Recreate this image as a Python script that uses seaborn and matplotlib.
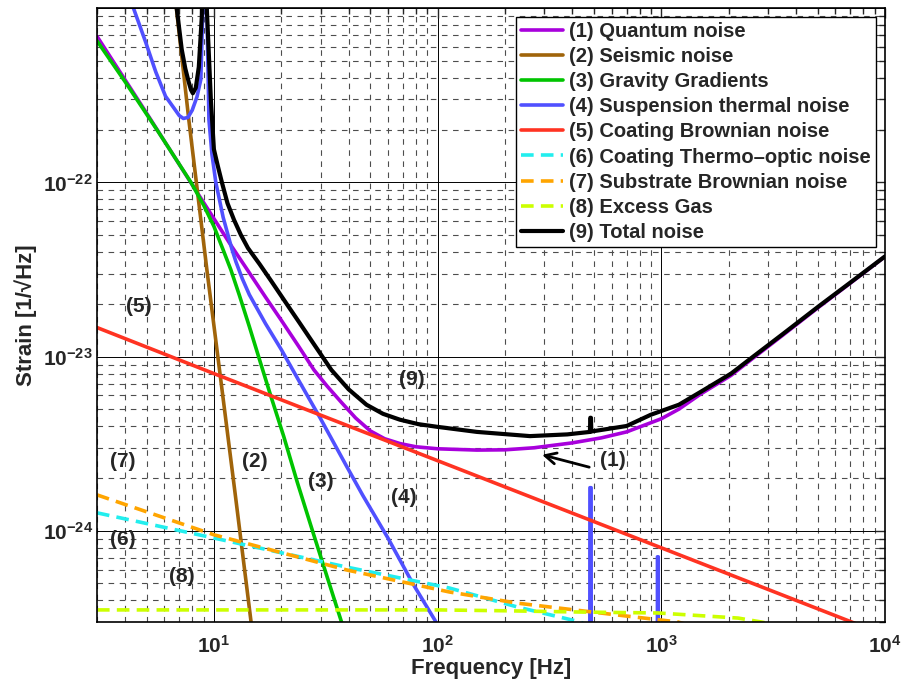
import numpy as np
import pandas as pd
import matplotlib
matplotlib.use("Agg")
import matplotlib.pyplot as plt
import seaborn as sns
from matplotlib.ticker import FixedLocator, LogLocator, NullFormatter, FuncFormatter

# values: frequency [Hz] and strain [1/sqrt(Hz)]
f_quantum = [3, 5, 8, 10, 12, 14, 17, 20, 24, 28, 32, 37, 43, 50, 58, 68, 80, 100, 150, 200, 270, 400, 540,
             700, 1000, 1200, 1500, 2050, 2520, 3500, 5050, 7000, 10000]
h_quantum = [6.9e-22, 2.5e-22, 9.7e-23, 6.2e-23, 4.3e-23, 3.2e-23, 2.2e-23, 1.62e-23, 1.14e-23, 8.4e-24,
             6.8e-24, 5.5e-24, 4.45e-24, 3.75e-24, 3.38e-24, 3.17e-24, 3.04e-24, 2.96e-24, 2.91e-24, 2.92e-24,
             3.0e-24, 3.2e-24, 3.42e-24, 3.7e-24, 4.4e-24, 5.0e-24, 6.1e-24, 7.8e-24, 9.6e-24, 1.33e-23,
             1.92e-23, 2.64e-23, 3.75e-23]

f_seismic = [6.6, 7.72, 9.3, 12.55, 14.66, 15.3]
h_seismic = [1.4e-21, 2.3e-22, 3.16e-23, 1.5e-24, 3.0e-25, 2.0e-25]

f_gravity = [3, 4, 5.66, 7.9, 9, 10, 11, 11.9, 13, 14.4, 16, 18, 20.5, 23.6, 27.6, 32, 37.2, 40]
h_gravity = [6.5e-22, 3.8e-22, 1.94e-22, 1.0e-22, 7.4e-23, 5.6e-23, 4.1e-23, 3.16e-23, 2.25e-23, 1.49e-23,
             9.6e-24, 5.9e-24, 3.5e-24, 1.9e-24, 1.0e-24, 5.5e-25, 3.0e-25, 2.2e-25]

f_susp = [4.2, 4.37, 4.95, 5.5, 6.08, 6.7, 7.0, 7.3, 7.65, 8.0, 8.4, 8.74, 9.0, 9.1, 9.25, 9.5, 9.8, 10.2, 11,
          12.05, 12.55, 13.4, 14.4, 17, 20, 24.1, 30, 39.2, 46.3, 60, 77.4, 97.2, 150, 300,
          479, 480, 486, 487, 700, 961, 962, 970, 971, 2000]
h_susp = [1.3e-21, 1.0e-21, 6.4e-22, 4.3e-22, 3.12e-22, 2.62e-22, 2.42e-22, 2.33e-22, 2.36e-22, 2.6e-22,
          3.1e-22, 3.9e-22, 1.5e-21, 1e-20, 1.5e-21, 2.3e-22, 1.45e-22, 1.0e-22, 6.3e-23, 4.12e-23, 3.5e-23,
          2.8e-23, 2.27e-23, 1.55e-23, 1.1e-23, 7.2e-24, 4.4e-24, 2.35e-24, 1.6e-24, 9.1e-25, 5.0e-25,
          3.08e-25, 1.1e-25, 3e-26, 1.3e-26, 1.77e-24, 1.77e-24, 1.3e-26, 1e-26, 5e-27, 7.1e-25, 7.1e-25,
          5e-27, 2e-27]

f_coat_br = [3, 10, 100, 1000, 7100, 10000]
h_coat_br = [1.47e-23, 8.0e-24, 2.53e-24, 8.0e-25, 3.0e-25, 2.5e-25]

f_coat_to = [3, 10, 39.2, 113, 227, 435, 480]
h_coat_to = [1.27e-24, 9.1e-25, 6.2e-25, 4.7e-25, 3.66e-25, 3.0e-25, 2.8e-25]

f_subst = [3, 10, 39.2, 113, 227, 638, 1189, 1300]
h_subst = [1.61e-24, 9.5e-25, 5.97e-25, 4.46e-25, 3.85e-25, 3.29e-25, 3.0e-25, 2.9e-25]

f_gas = [3, 100, 200, 449, 966, 2208, 2800, 3000]
h_gas = [3.52e-25, 3.52e-25, 3.48e-25, 3.42e-25, 3.38e-25, 3.16e-25, 3.0e-25, 2.95e-25]

f_total = [6.5, 6.82, 7.18, 7.45, 7.72, 7.9, 8.05, 8.3, 8.56, 8.83, 9.05, 9.3, 9.69, 10, 10.4, 10.86, 11.5,
           12.3, 13.2, 14.2, 16, 18, 21.9, 24.1, 28, 33.5, 40, 48.1, 57, 67.8, 82, 99.3, 150, 259, 380, 480,
           482, 485, 487, 700, 898, 1200, 1507, 2054, 2523, 3500, 5045, 7000, 10000]
h_total = [1.4e-21, 1.0e-21, 5.8e-22, 4.5e-22, 3.76e-22, 3.4e-22, 3.25e-22, 3.5e-22, 4.6e-22, 9e-22, 1e-20,
           9.8e-22, 3.0e-22, 1.55e-22, 1.25e-22, 1.0e-22, 7.6e-23, 6.1e-23, 5.0e-23, 4.2e-23, 3.4e-23,
           2.73e-23, 1.88e-23, 1.57e-23, 1.18e-23, 8.4e-24, 6.5e-24, 5.3e-24, 4.7e-24, 4.35e-24, 4.1e-24,
           3.96e-24, 3.7e-24, 3.5e-24, 3.58e-24, 3.7e-24, 4.46e-24, 4.46e-24, 3.72e-24, 4.0e-24, 4.64e-24,
           5.3e-24, 6.3e-24, 8.0e-24, 9.8e-24, 1.35e-23, 1.94e-23, 2.66e-23, 3.76e-23]

labels = ["(1) Quantum noise", "(2) Seismic noise", "(3) Gravity Gradients",
          "(4) Suspension thermal noise", "(5) Coating Brownian noise",
          "(6) Coating Thermo\u2013optic noise", "(7) Substrate Brownian noise",
          "(8) Excess Gas", "(9) Total noise"]

# curve tags placed on the plot (text, frequency, strain)
tags = [("(5)", 4.6, 1.94e-23), ("(9)", 77, 7.4e-24), ("(1)", 607, 2.52e-24),
        ("(7)", 3.9, 2.5e-24), ("(2)", 15.3, 2.5e-24), ("(3)", 30.2, 1.91e-24),
        ("(4)", 71, 1.55e-24), ("(6)", 3.9, 8.9e-25), ("(8)", 7.2, 5.45e-25)]

sns.set_style("white")
plt.rcParams['font.family'] = ['Liberation Sans', 'DejaVu Sans']
plt.rcParams['font.weight'] = 'bold'
plt.rcParams['axes.labelweight'] = 'bold'
plt.rcParams['mathtext.fontset'] = 'custom'
plt.rcParams['mathtext.rm'] = 'Liberation Sans:bold'
plt.rcParams['mathtext.bf'] = 'Liberation Sans:bold'
plt.rcParams['mathtext.default'] = 'rm'

fig = plt.figure(figsize=(9.02, 6.86), dpi=100)
ax = fig.add_axes([0.1075, 0.0933, 0.8735, 0.8947])

series = [
    (f_quantum, h_quantum, "#A800DC", "-", 2.6),
    (f_seismic, h_seismic, "#A0640A", "-", 2.6),
    (f_gravity, h_gravity, "#00C400", "-", 2.6),
    (f_susp, h_susp, "#5050FF", "-", 2.6),
    (f_coat_br, h_coat_br, "#FF3322", "-", 2.6),
    (f_coat_to, h_coat_to, "#22EEEE", (0, (3.5, 2)), 2.6),
    (f_subst, h_subst, "#FFA500", (0, (3.5, 2)), 2.6),
    (f_gas, h_gas, "#CCFF00", (0, (3.5, 2)), 2.6),
    (f_total, h_total, "black", "-", 3.0),
]
for (f, h, c, ls, lw), lab in zip(series, labels):
    sns.lineplot(x=f, y=h, ax=ax, color=c, linestyle=ls, lw=lw, label=lab,
                 estimator=None, sort=False)

ax.set_xscale('log')
ax.set_yscale('log')
ax.set_xlim(3, 1e4)
ax.set_ylim(3e-25, 1e-21)

ax.xaxis.set_major_locator(FixedLocator([1e1, 1e2, 1e3, 1e4]))
ax.yaxis.set_major_locator(FixedLocator([1e-24, 1e-23, 1e-22]))
ax.xaxis.set_minor_locator(LogLocator(base=10, subs=np.arange(2, 10), numticks=20))
ax.yaxis.set_minor_locator(LogLocator(base=10, subs=np.arange(2, 10), numticks=20))
ax.xaxis.set_minor_formatter(NullFormatter())
ax.yaxis.set_minor_formatter(NullFormatter())
fmt = FuncFormatter(lambda v, p: r'$10^{%d}$' % int(round(np.log10(v))))
ax.xaxis.set_major_formatter(fmt)
ax.yaxis.set_major_formatter(fmt)

ax.grid(True, which='major', ls='-', color='black', lw=0.7)
ax.grid(True, which='minor', ls=(0, (5, 5)), color='0.3', lw=0.8)
ax.axhline(1e-21, color='black', lw=0.7)
ax.tick_params(which='both', direction='in', top=True, right=True, labelsize=15, width=1)
ax.tick_params(which='major', length=7)
ax.tick_params(axis='x', which='major', pad=9)
ax.tick_params(axis='y', which='major', pad=3)
ax.tick_params(which='minor', length=4)
for s in ax.spines.values():
    s.set_linewidth(1.2)
    s.set_color('black')

ax.set_xlabel("Frequency [Hz]", fontsize=16, labelpad=1)
ax.set_ylabel("Strain [1/\u221aHz]", fontsize=16, labelpad=4)

for t, x, y in tags:
    ax.text(x, y, t, fontsize=15, ha='center', va='center', weight='bold')
ax.annotate('', xy=(285, 2.76e-24), xytext=(490, 2.3e-24),
            arrowprops=dict(arrowstyle='->', color='black', lw=2, mutation_scale=20))

leg = ax.legend(loc='upper right', fontsize=14.5, frameon=True, fancybox=False,
                edgecolor='black', framealpha=1, handlelength=2.1, handletextpad=0.3,
                labelspacing=0.3, borderpad=0.25, borderaxespad=0.45)
leg.get_frame().set_linewidth(1.0)

fig.savefig("out.png", dpi=100)
